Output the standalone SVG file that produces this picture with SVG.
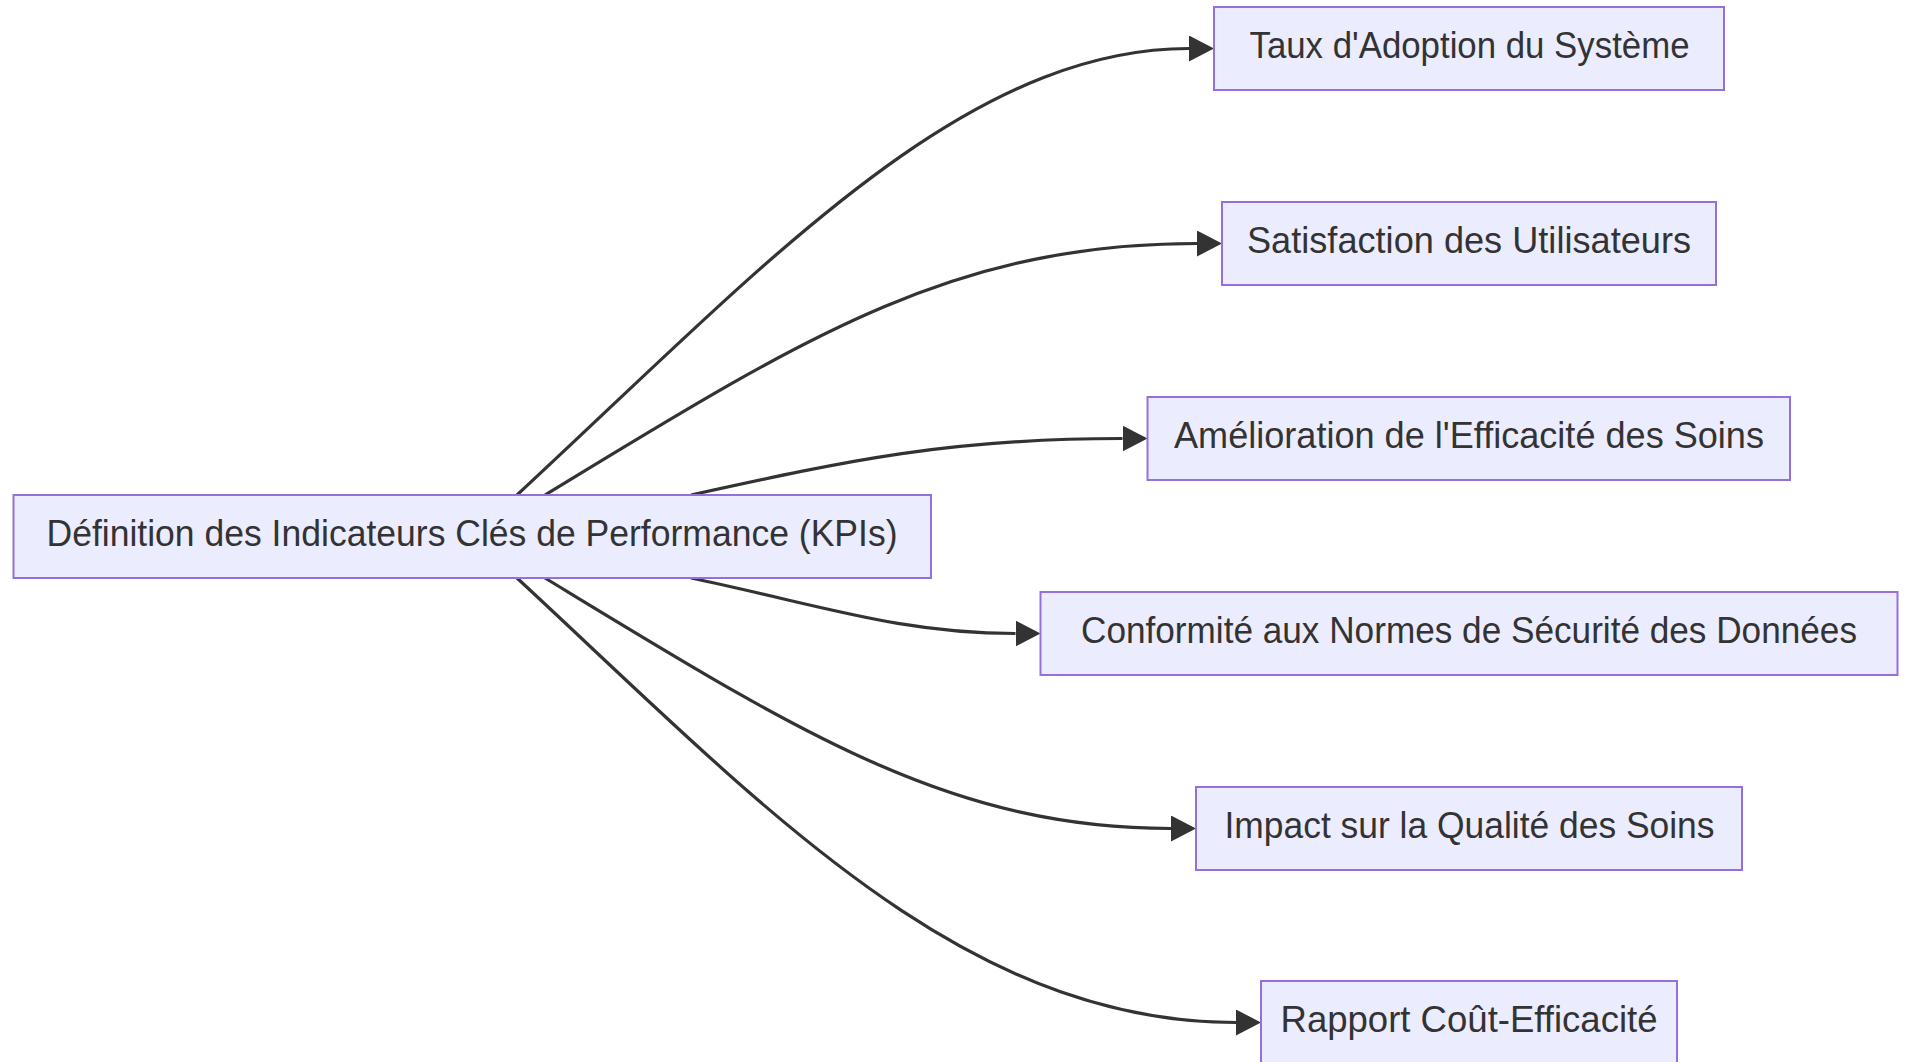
<svg xmlns="http://www.w3.org/2000/svg" width="1908" height="1062" viewBox="0 0 1908 1062">
<defs>
<style>
.node rect{fill:#ECECFF;stroke:#9370DB;stroke-width:2}
.node text{font-family:"Liberation Sans",Arial,sans-serif;font-size:37px;fill:#333;text-anchor:middle;dominant-baseline:central}
.edge{fill:none;stroke:#333;stroke-width:3.2;marker-end:url(#arrow)}
</style>
<marker id="arrow" markerUnits="userSpaceOnUse" markerWidth="26" markerHeight="26" refX="0" refY="13" orient="auto">
<path d="M0,0 L25,13 L0,26 z" fill="#333"/>
</marker>
</defs>
<rect width="1908" height="1062" fill="#fff"/>
<g id="edges">
<path class="edge" d="M517,495 C760,270 960,48.5 1189,48.5"/>
<path class="edge" d="M545,495 C800,340 950,243.5 1197,243.5"/>
<path class="edge" d="M691,495 C850,460 950,438.5 1122.5,438.5"/>
<path class="edge" d="M691,578 C820,605 900,633.5 1015.5,633.5"/>
<path class="edge" d="M545,578 C800,733 950,828.5 1171,828.5"/>
<path class="edge" d="M517,578 C760,803 960,1022.5 1236,1022.5"/>
</g>
<g id="kpi" class="node">
<rect x="13.5" y="495" width="917.5" height="83"/>
<text x="472" y="533" textLength="851" lengthAdjust="spacingAndGlyphs">Définition des Indicateurs Clés de Performance (KPIs)</text>
</g>
<g id="adoption" class="node">
<rect x="1214" y="7" width="510" height="83"/>
<text x="1469.5" y="45" textLength="440" lengthAdjust="spacingAndGlyphs">Taux d'Adoption du Système</text>
</g>
<g id="satisfaction" class="node">
<rect x="1222" y="202" width="494" height="83"/>
<text x="1469" y="240" textLength="444" lengthAdjust="spacingAndGlyphs">Satisfaction des Utilisateurs</text>
</g>
<g id="efficacite" class="node">
<rect x="1147.5" y="397" width="642.5" height="83"/>
<text x="1469" y="435" textLength="590" lengthAdjust="spacingAndGlyphs">Amélioration de l'Efficacité des Soins</text>
</g>
<g id="securite" class="node">
<rect x="1040.5" y="592" width="857" height="83"/>
<text x="1469" y="630" textLength="776" lengthAdjust="spacingAndGlyphs">Conformité aux Normes de Sécurité des Données</text>
</g>
<g id="qualite" class="node">
<rect x="1196" y="787" width="546" height="83"/>
<text x="1469.5" y="825" textLength="490" lengthAdjust="spacingAndGlyphs">Impact sur la Qualité des Soins</text>
</g>
<g id="cout" class="node">
<rect x="1261" y="981" width="416" height="83"/>
<text x="1469" y="1019" textLength="377" lengthAdjust="spacingAndGlyphs">Rapport Coût-Efficacité</text>
</g>
</svg>
